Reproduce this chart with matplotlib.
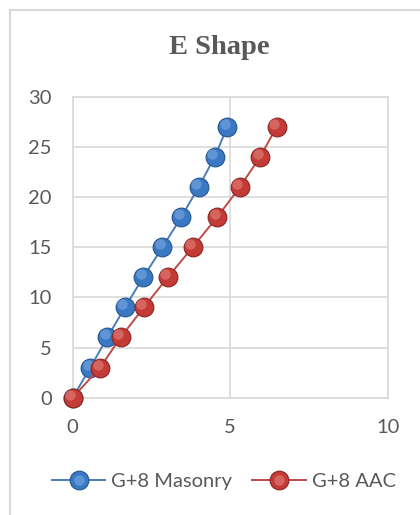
import matplotlib
matplotlib.use("Agg")
import matplotlib.pyplot as plt
from matplotlib.lines import Line2D
from matplotlib.transforms import offset_copy

# storey drift data, E shaped plan
storey = [0, 3, 6, 9, 12, 15, 18, 21, 24, 27]
masonry = [0, 0.56, 1.10, 1.66, 2.24, 2.85, 3.45, 4.00, 4.51, 4.91]
aac = [0, 0.87, 1.52, 2.26, 3.02, 3.81, 4.59, 5.31, 5.95, 6.48]

series = [
    ("G+8 Masonry", masonry, "#4a7ebb", "#3a78c4", "#23548f", "#8db8ea"),
    ("G+8 AAC", aac, "#be4b48", "#c43a36", "#8a2422", "#ee9893"),
]

grey = "#d9d9d9"
txt = "#595959"

fig = plt.figure(figsize=(4.2, 5.15), dpi=100)
ax = fig.add_axes([0.173, 0.2278, 0.75, 0.5845])

handles = []
for name, xs, lc, fc, ec, hc in series:
    ln, = ax.plot(xs, storey, color=lc, lw=1.4, marker="o", ms=13.5,
                  mfc=fc, mec=ec, mew=0.8, clip_on=False, zorder=3)
    # soft highlight to give the markers a glossy look
    tr = offset_copy(ax.transData, fig=fig, x=-1.8, y=2.2, units="points")
    ax.plot(xs, storey, ls="none", marker="o", ms=7.5, mfc=hc, mec="none",
            alpha=0.45, transform=tr, clip_on=False, zorder=3)
    hl = Line2D([], [], ls="none", marker="o", ms=7.5, mfc=hc, mec="none", alpha=0.45)
    handles.append(((ln, hl), name))

ax.set_xlim(0, 10)
ax.set_ylim(0, 30)
ax.set_xticks([0, 5, 10])
ax.set_yticks(range(0, 31, 5))
ax.grid(True, color=grey, lw=1.2)
ax.set_axisbelow(True)
for s in ax.spines.values():
    s.set_color(grey)
    s.set_linewidth(1.2)
ax.tick_params(length=0, labelsize=14.5, labelcolor=txt, pad=15,
               labelfontfamily="Lato")

fig.text(0.521, 0.907, "E Shape", ha="center", va="center", fontsize=20.5,
         fontweight="bold", family="Liberation Serif", color=txt)

leg = fig.legend([h for h, _ in handles], [n for _, n in handles],
                 loc="center", bbox_to_anchor=(0.533, 0.0647), ncol=2,
                 frameon=False, handlelength=2.65, handletextpad=0.3,
                 columnspacing=1.0, prop={"family": "Lato", "size": 14.5})
for t in leg.get_texts():
    t.set_color(txt)

# chart area border
fig.add_artist(Line2D([9.5 / 420, 1], [1 - 9.5 / 515] * 2, color=grey, lw=1.5))
fig.add_artist(Line2D([9.5 / 420] * 2, [0, 1 - 9.5 / 515], color=grey, lw=1.5))

fig.savefig("out.png", dpi=100)
